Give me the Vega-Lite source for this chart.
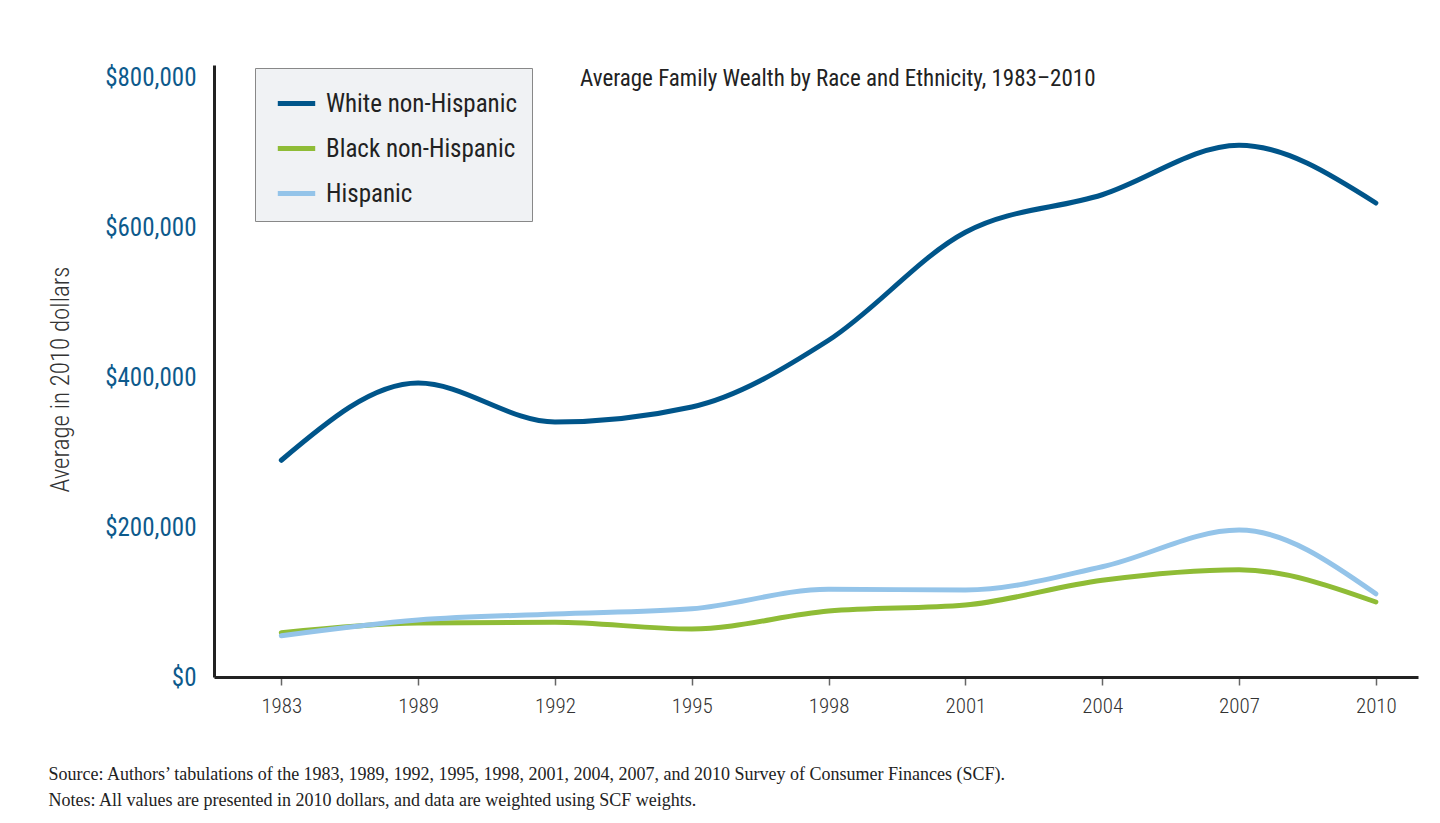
{
  "$schema": "https://vega.github.io/schema/vega-lite/v6.json",
  "autosize": {"type": "none"},
  "width": 1204,
  "height": 612,
  "padding": {"left": 214, "top": 65, "right": 22, "bottom": 146},
  "background": "white",
  "title": {
    "text": "Average Family Wealth by Race and Ethnicity, 1983–2010",
    "anchor": "start",
    "frame": "group",
    "orient": "top",
    "offset": 0,
    "dx": 366,
    "dy": 37,
    "baseline": "middle",
    "font": "Roboto Condensed, Roboto",
    "fontSize": 23,
    "fontWeight": "normal",
    "color": "#222222"
  },
  "data": {
    "values": [
      {"year": "1983", "group": "White non-Hispanic", "wealth": 289000},
      {"year": "1989", "group": "White non-Hispanic", "wealth": 392000},
      {"year": "1992", "group": "White non-Hispanic", "wealth": 340000},
      {"year": "1995", "group": "White non-Hispanic", "wealth": 360000},
      {"year": "1998", "group": "White non-Hispanic", "wealth": 449000},
      {"year": "2001", "group": "White non-Hispanic", "wealth": 593000},
      {"year": "2004", "group": "White non-Hispanic", "wealth": 643000},
      {"year": "2007", "group": "White non-Hispanic", "wealth": 709000},
      {"year": "2010", "group": "White non-Hispanic", "wealth": 632000},
      {"year": "1983", "group": "Black non-Hispanic", "wealth": 59000},
      {"year": "1989", "group": "Black non-Hispanic", "wealth": 72000},
      {"year": "1992", "group": "Black non-Hispanic", "wealth": 73000},
      {"year": "1995", "group": "Black non-Hispanic", "wealth": 64000},
      {"year": "1998", "group": "Black non-Hispanic", "wealth": 88000},
      {"year": "2001", "group": "Black non-Hispanic", "wealth": 96000},
      {"year": "2004", "group": "Black non-Hispanic", "wealth": 129000},
      {"year": "2007", "group": "Black non-Hispanic", "wealth": 143000},
      {"year": "2010", "group": "Black non-Hispanic", "wealth": 100000},
      {"year": "1983", "group": "Hispanic", "wealth": 55000},
      {"year": "1989", "group": "Hispanic", "wealth": 76000},
      {"year": "1992", "group": "Hispanic", "wealth": 84000},
      {"year": "1995", "group": "Hispanic", "wealth": 91000},
      {"year": "1998", "group": "Hispanic", "wealth": 117000},
      {"year": "2001", "group": "Hispanic", "wealth": 116000},
      {"year": "2004", "group": "Hispanic", "wealth": 147000},
      {"year": "2007", "group": "Hispanic", "wealth": 196000},
      {"year": "2010", "group": "Hispanic", "wealth": 111000}
    ]
  },
  "mark": {"type": "line", "interpolate": "monotone", "strokeWidth": 5, "strokeCap": "round"},
  "encoding": {
    "x": {
      "field": "year",
      "type": "ordinal",
      "sort": null,
      "scale": {"type": "point", "padding": 0.4, "align": 0.615},
      "axis": {
        "title": ["Source: Authors’ tabulations of the 1983, 1989, 1992, 1995, 1998, 2001, 2004, 2007, and 2010 Survey of Consumer Finances (SCF).", "Notes: All values are presented in 2010 dollars, and data are weighted using SCF weights."],
        "titleFont": "Liberation Serif",
        "titleFontSize": 18,
        "titleFontWeight": "normal",
        "titleColor": "#222222",
        "titleX": -166,
        "titleY": 88,
        "titleAlign": "left",
        "titleAnchor": "start",
        "titleBaseline": "top",
        "titleLineHeight": 26,
        "labelAngle": 0,
        "labelFont": "Roboto Condensed, Roboto",
        "labelFontSize": 21,
        "labelFontWeight": 300,
        "labelColor": "#333333",
        "labelPadding": 10,
        "tickColor": "#666666",
        "tickWidth": 1.5,
        "tickSize": 8,
        "domainColor": "#222222",
        "domainWidth": 3,
        "grid": false
      }
    },
    "y": {
      "field": "wealth",
      "type": "quantitative",
      "scale": {"domain": [0, 816000], "nice": false},
      "axis": {
        "values": [0, 200000, 400000, 600000, 800000],
        "format": "$,.0f",
        "title": "Average in 2010 dollars",
        "titleFont": "Roboto Condensed, Roboto",
        "titleFontSize": 25,
        "titleFontWeight": 300,
        "titleColor": "#333333",
        "titleAngle": -90,
        "titleX": -154,
        "titleY": 314,
        "titleAlign": "center",
        "titleBaseline": "middle",
        "labelFont": "Roboto Condensed, Roboto",
        "labelFontSize": 25,
        "labelFontWeight": "normal",
        "labelColor": "#0d5a8c",
        "labelPadding": 18,
        "ticks": false,
        "domainColor": "#222222",
        "domainWidth": 3,
        "grid": false
      }
    },
    "color": {
      "field": "group",
      "type": "nominal",
      "scale": {
        "domain": ["White non-Hispanic", "Black non-Hispanic", "Hispanic"],
        "range": ["#00558a", "#8fbc36", "#94c4e9"]
      },
      "legend": {
        "title": null,
        "orient": "none",
        "legendX": 41,
        "legendY": 3,
        "fillColor": "#f0f2f4",
        "strokeColor": "#888888",
        "padding": 14,
        "rowPadding": 10,
        "symbolType": "stroke",
        "symbolStrokeWidth": 5,
        "symbolSize": 1400,
        "symbolOffset": 6,
        "labelFont": "Roboto Condensed, Roboto",
        "labelFontSize": 25,
        "labelFontWeight": "normal",
        "labelColor": "#222222",
        "labelOffset": 8,
        "labelLimit": 300
      }
    }
  },
  "config": {"view": {"stroke": null}}
}
